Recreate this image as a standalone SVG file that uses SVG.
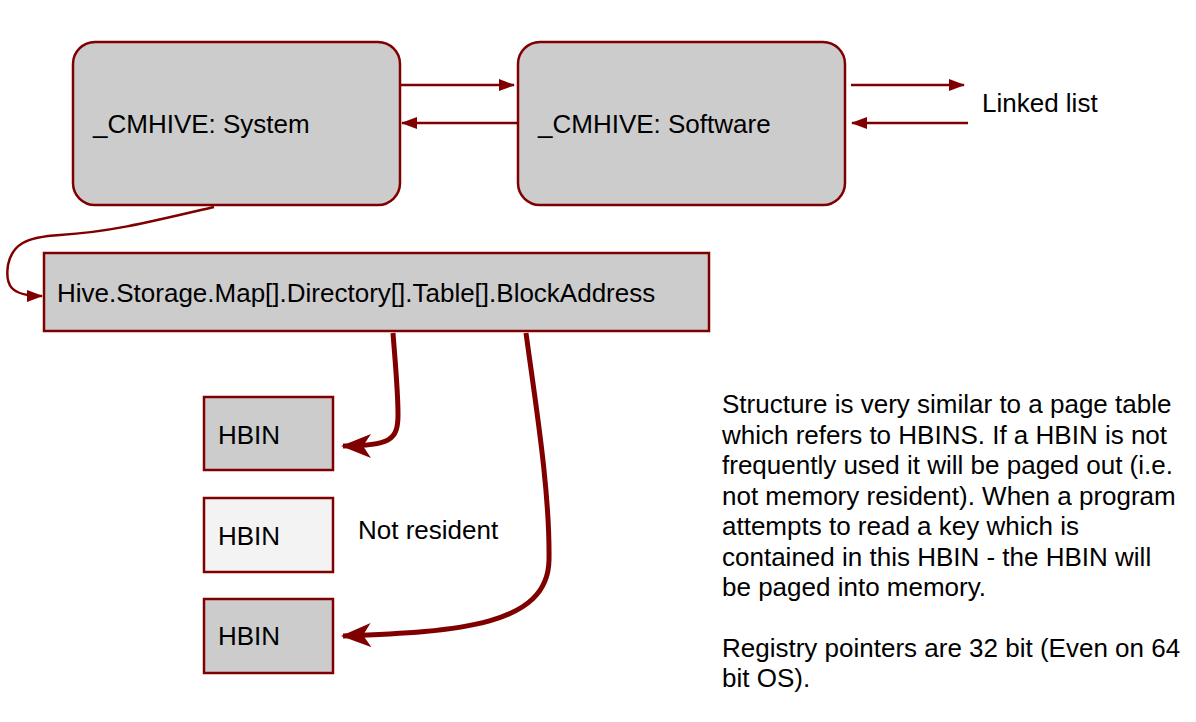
<svg xmlns="http://www.w3.org/2000/svg" width="1196" height="722" viewBox="0 0 1196 722">
<style>
.box{fill:#cccccc;stroke:#800000;stroke-width:2.5}
.t{font-family:"Liberation Sans",Arial,sans-serif;font-size:26px;fill:#000}
.thin{fill:none;stroke:#800000;stroke-width:2.5}
.thick{fill:none;stroke:#800000;stroke-width:5}
</style>
<defs>
<marker id="ah" viewBox="0 0 16 12" refX="15" refY="6" markerWidth="16" markerHeight="12" markerUnits="userSpaceOnUse" orient="auto">
<path d="M0,0 L16,6 L0,12 Z" fill="#800000"/>
</marker>
<marker id="ahb" viewBox="0 0 30 24" refX="28" refY="12" markerWidth="30" markerHeight="24" markerUnits="userSpaceOnUse" orient="auto">
<path d="M0,0 L30,12 L0,24 L8,12 Z" fill="#800000"/>
</marker>
</defs>
<rect width="1196" height="722" fill="#ffffff"/>
<g id="system">
<rect class="box" x="73" y="42" width="327" height="163" rx="22"/>
<text class="t" x="93" y="133">_CMHIVE: System</text>
</g>
<g id="software">
<rect class="box" x="518" y="42" width="327" height="163" rx="22"/>
<text class="t" x="538" y="133">_CMHIVE: Software</text>
</g>
<g id="storage">
<rect class="box" x="44" y="253" width="665" height="78"/>
<text class="t" x="57" y="302">Hive.Storage.Map[].Directory[].Table[].BlockAddress</text>
</g>
<g id="hbin1">
<rect class="box" x="204" y="397" width="129" height="73"/>
<text class="t" x="218" y="444">HBIN</text>
</g>
<g id="hbin2">
<rect class="box" x="204" y="498" width="129" height="74" style="fill:#f3f3f3"/>
<text class="t" x="218" y="545">HBIN</text>
</g>
<g id="hbin3">
<rect class="box" x="204" y="599" width="129" height="74"/>
<text class="t" x="218" y="645">HBIN</text>
</g>
<g id="labels">
<text class="t" x="982" y="112">Linked list</text>
<text class="t" x="358" y="539">Not resident</text>
<text class="t" x="722" y="413">Structure is very similar to a page table</text>
<text class="t" x="722" y="444">which refers to HBINS. If a HBIN is not</text>
<text class="t" x="722" y="474">frequently used it will be paged out (i.e.</text>
<text class="t" x="722" y="505">not memory resident). When a program</text>
<text class="t" x="722" y="535">attempts to read a key which is</text>
<text class="t" x="722" y="566">contained in this HBIN - the HBIN will</text>
<text class="t" x="722" y="596">be paged into memory.</text>
<text class="t" x="722" y="657">Registry pointers are 32 bit (Even on 64</text>
<text class="t" x="722" y="687">bit OS).</text>
</g>
<g id="connectors">
<line class="thin" x1="401" y1="85" x2="514" y2="85" marker-end="url(#ah)"/>
<line class="thin" x1="517" y1="123" x2="402" y2="123" marker-end="url(#ah)"/>
<line class="thin" x1="851" y1="85" x2="964" y2="85" marker-end="url(#ah)"/>
<line class="thin" x1="968" y1="123" x2="852" y2="123" marker-end="url(#ah)"/>
<path class="thin" d="M214,207 C150,222 110,232 60,235 C25,237 12,245 8,265 C5,285 10,296 42,296" marker-end="url(#ah)"/>
<path class="thick" d="M393,333 C395,360 398,390 398,415 C398,440 390,446 343,446" marker-end="url(#ahb)"/>
<path class="thick" d="M526,333 C535,400 550,490 549,560 C548,625 460,632 343,636" marker-end="url(#ahb)"/>
</g>
</svg>
